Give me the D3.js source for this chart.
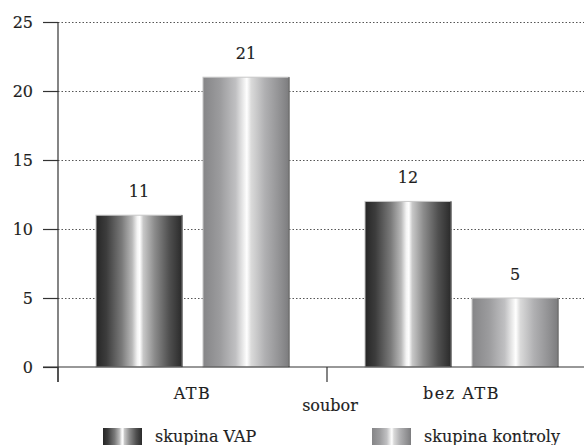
<!DOCTYPE html>
<html><head><meta charset="utf-8">
<script src="https://cdn.jsdelivr.net/npm/d3@7"></script>
<style>body{margin:0;background:#fff}svg{display:block}text{font-family:"DejaVu Serif",serif;fill:#1e1e1e;stroke:#1e1e1e;stroke-width:0.15px}</style>
</head><body><div id="chart"></div>
<script>
const categories = ["ATB", "bez ATB"];
const seriesNames = ["skupina VAP", "skupina kontroly"];
const vapValues = [11, 12];
const controlValues = [21, 5];
const yTicks = [0, 5, 10, 15, 20, 25];
const xTitle = "soubor";

const W = 584, H = 445, FS = 16;
const svg = d3.select("#chart").append("svg").attr("width", W).attr("height", H);
const defs = svg.append("defs");
function grad(id, stops){
  const g = defs.append("linearGradient").attr("id", id).attr("x1","0%").attr("x2","100%").attr("y1","0%").attr("y2","0%");
  stops.forEach(s => g.append("stop").attr("offset", s[0]).attr("stop-color", s[1]));
}
grad("gVap", [["0%","#262626"],["12%","#3c3c3c"],["30%","#7a7a7a"],["42%","#b8b8b8"],["48%","#f4f4f4"],["51%","#ffffff"],["55%","#c8c8c8"],["68%","#8c8c8c"],["85%","#505050"],["100%","#2a2a2a"]]);
grad("gCtl", [["0%","#858587"],["20%","#9c9c9e"],["38%","#c0c0c2"],["47%","#ececec"],["51%","#ffffff"],["56%","#dadada"],["72%","#b0b0b2"],["92%","#8c8c8e"],["100%","#7c7c7e"]]);
const fills = ["url(#gVap)", "url(#gCtl)"];

const x0 = d3.scaleBand().domain(categories).range([58, 596]);
const x1 = d3.scaleBand().domain(seriesNames).range([0, x0.bandwidth()]).paddingInner(0.196).paddingOuter(0.355);
const y = d3.scaleLinear().domain([0, 25]).range([367, 22]);

// grid
svg.append("g").selectAll("line").data(yTicks.filter(t => t > 0)).join("line")
  .attr("x1", 58).attr("x2", W).attr("y1", d => y(d) + 0.5).attr("y2", d => y(d) + 0.5)
  .attr("stroke", "#555").attr("stroke-width", 1).attr("stroke-dasharray", "1.5,2");

// bars
const data = categories.map((c, i) => ({cat: c, vals: [vapValues[i], controlValues[i]]}));
const groups = svg.append("g").selectAll("g").data(data).join("g")
  .attr("transform", d => `translate(${x0(d.cat)},0)`);
const items = d => d.vals.map((v, j) => ({v, s: seriesNames[j], j}));
groups.selectAll("rect").data(items).join("rect")
  .attr("x", d => x1(d.s)).attr("width", x1.bandwidth())
  .attr("y", d => y(d.v)).attr("height", d => y(0) - y(d.v))
  .attr("fill", d => fills[d.j]).attr("stroke", "#c8c8c8").attr("stroke-width", 1);
groups.selectAll("line.edge").data(items).join("line")
  .attr("class", "edge")
  .attr("x1", d => x1(d.s) + x1.bandwidth()).attr("x2", d => x1(d.s) + x1.bandwidth())
  .attr("y1", d => y(d.v)).attr("y2", y(0))
  .attr("stroke", d => d.j === 1 ? "#444" : "#2a2a2a").attr("stroke-width", 1);
groups.selectAll("text").data(items).join("text")
  .attr("x", d => x1(d.s) + x1.bandwidth() / 2).attr("y", d => y(d.v) - 18)
  .attr("text-anchor", "middle").attr("font-size", FS).text(d => d.v);

// y axis
const yAxis = d3.axisLeft(y).tickValues(yTicks).tickSize(15).tickPadding(10);
const ya = svg.append("g").attr("transform", "translate(58,0)").call(yAxis);
ya.select(".domain").remove();
ya.selectAll(".tick line").attr("stroke", "#333").attr("stroke-width", 1.2);
ya.selectAll(".tick text").attr("font-size", FS).attr("font-family", "DejaVu Serif").attr("fill", "#1e1e1e");
svg.append("line").attr("x1", 58).attr("x2", 58).attr("y1", y(25)).attr("y2", 382).attr("stroke", "#333").attr("stroke-width", 1.2);

// x axis
svg.append("line").attr("x1", 43).attr("x2", W).attr("y1", y(0)).attr("y2", y(0)).attr("stroke", "#333").attr("stroke-width", 1.2);
const bounds = [x0.range()[0]].concat(categories.slice(1).map(c => x0(c)));
svg.append("g").selectAll("line").data(bounds).join("line")
  .attr("x1", d => d).attr("x2", d => d).attr("y1", y(0)).attr("y2", 382).attr("stroke", "#333").attr("stroke-width", 1.2);
svg.append("g").selectAll("text").data(categories).join("text")
  .attr("x", d => x0(d) + x0.bandwidth() / 2).attr("y", 399)
  .attr("text-anchor", "middle").attr("font-size", FS).attr("letter-spacing", 1.5).text(d => d);
svg.append("text").attr("x", 330).attr("y", 411).attr("text-anchor", "middle").attr("font-size", FS).text(xTitle);

// legend
const legX = [103, 372];
const leg = svg.append("g").selectAll("g").data(seriesNames).join("g")
  .attr("transform", (d, i) => `translate(${legX[i]},428)`);
leg.append("rect").attr("width", 39).attr("height", 20).attr("fill", (d, i) => fills[i]);
leg.append("text").attr("x", 52).attr("y", 14).attr("font-size", FS).text(d => d);
</script></body></html>
